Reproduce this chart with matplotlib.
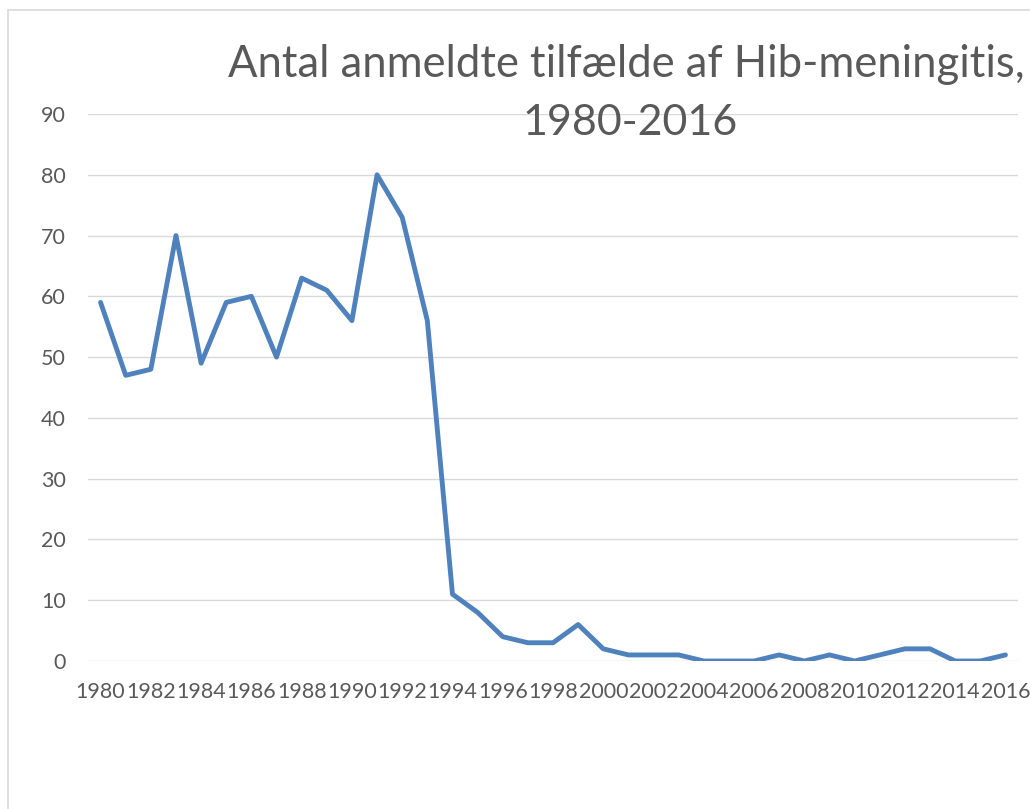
import numpy as np
import matplotlib.pyplot as plt
from matplotlib.patches import Rectangle

# Hib-meningitis cases per year
years = list(range(1980, 2017))
cases = [59, 47, 48, 70, 49, 59, 60, 50, 63, 61, 56, 80, 73, 56, 11, 8, 4, 3, 3, 6,
         2, 1, 1, 1, 0, 0, 0, 1, 0, 1, 0, 1, 2, 2, 0, 0, 1]
y_ticks = [0, 10, 20, 30, 40, 50, 60, 70, 80, 90]

W, H = 1030, 809
fig = plt.figure(figsize=(W / 100, H / 100), dpi=100)
plt.rcParams['font.family'] = ['Lato', 'DejaVu Sans']

# chart area border (right/bottom edges fall outside the picture)
fig.patches.append(Rectangle((8 / W, -0.2), 1.2, (H - 10) / H + 0.2,
                             transform=fig.transFigure, fill=False,
                             edgecolor='#d9d9d9', linewidth=1.2))

ax = fig.add_axes([88 / W, (H - 661) / H, 930 / W, (661 - 114) / H])
x = np.arange(len(years))
ax.plot(x, cases, color='#4f81bd', linewidth=3.5, solid_joinstyle='round',
        solid_capstyle='round', zorder=3)

ax.set_xlim(-0.5, len(years) - 0.5)
ax.set_ylim(0, 90)
ax.set_yticks(y_ticks)
ax.set_xticks(x[::2])
ax.set_xticklabels([str(y) for y in years[::2]])
ax.grid(axis='y', color='#d9d9d9', linewidth=1.0)
ax.set_axisbelow(True)
for s in ax.spines.values():
    s.set_visible(False)
ax.tick_params(length=0, colors='#595959', labelsize=15.5)
ax.tick_params(axis='x', pad=15)
ax.tick_params(axis='y', pad=16)

fig.text(626 / W, 1 - 77 / H, 'Antal anmeldte tilfælde af Hib-meningitis,',
         ha='center', va='baseline', fontsize=31.4, color='#595959')
fig.text(630 / W, 1 - 135 / H, '1980-2016',
         ha='center', va='baseline', fontsize=31, color='#595959')

fig.savefig('out.png', dpi=100)
